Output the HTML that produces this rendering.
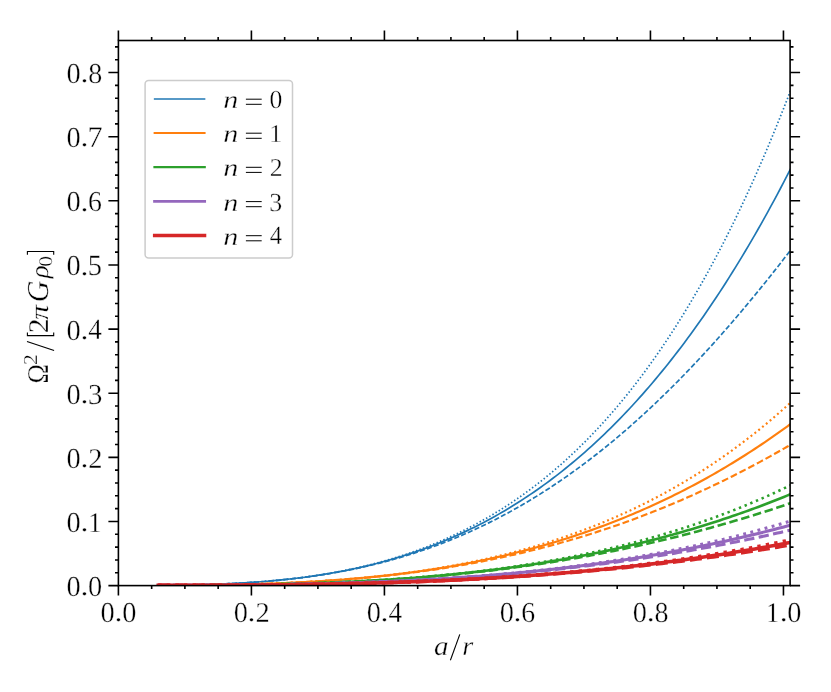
<!DOCTYPE html>
<html><head><meta charset="utf-8"><title>plot</title>
<style>
html,body{margin:0;padding:0;background:#fff;}
body{width:831px;height:692px;overflow:hidden;position:relative;font-family:"Liberation Serif",serif;}
svg{will-change:transform;position:absolute;left:0;top:0;display:block;}
text{font-family:"Liberation Serif",serif;fill:#000;text-rendering:geometricPrecision;}
.it{font-style:italic;}
</style></head><body>
<svg width="831" height="692" viewBox="0 0 831 692">
<rect x="0" y="0" width="831" height="692" fill="#fff"/>
<defs><clipPath id="ax"><rect x="118.4" y="40.5" width="671.70" height="545.10"/></clipPath></defs>
<g clip-path="url(#ax)" fill="none" stroke-linejoin="round">
<path d="M158.30,585.32 L161.51,585.30 L164.72,585.27 L167.92,585.25 L171.13,585.22 L174.34,585.18 L177.55,585.14 L180.76,585.09 L183.96,585.04 L187.17,584.99 L190.38,584.93 L193.59,584.86 L196.80,584.79 L200.00,584.71 L203.21,584.63 L206.42,584.54 L209.63,584.44 L212.84,584.34 L216.04,584.23 L219.25,584.11 L222.46,583.98 L225.67,583.84 L228.88,583.70 L232.08,583.55 L235.29,583.38 L238.50,583.21 L241.71,583.03 L244.92,582.84 L248.13,582.64 L251.33,582.43 L254.54,582.21 L257.75,581.98 L260.96,581.74 L264.17,581.48 L267.37,581.22 L270.58,580.94 L273.79,580.65 L277.00,580.35 L280.21,580.04 L283.41,579.71 L286.62,579.37 L289.83,579.02 L293.04,578.65 L296.25,578.27 L299.45,577.88 L302.66,577.47 L305.87,577.05 L309.08,576.61 L312.29,576.16 L315.49,575.69 L318.70,575.20 L321.91,574.70 L325.12,574.19 L328.33,573.65 L331.53,573.10 L334.74,572.53 L337.95,571.95 L341.16,571.35 L344.37,570.73 L347.57,570.09 L350.78,569.43 L353.99,568.76 L357.20,568.06 L360.41,567.35 L363.61,566.62 L366.82,565.86 L370.03,565.09 L373.24,564.30 L376.45,563.48 L379.65,562.65 L382.86,561.79 L386.07,560.91 L389.28,560.02 L392.49,559.09 L395.69,558.15 L398.90,557.18 L402.11,556.19 L405.32,555.18 L408.53,554.14 L411.74,553.08 L414.94,552.00 L418.15,550.89 L421.36,549.76 L424.57,548.60 L427.78,547.42 L430.98,546.21 L434.19,544.97 L437.40,543.71 L440.61,542.42 L443.82,541.11 L447.02,539.77 L450.23,538.40 L453.44,537.00 L456.65,535.58 L459.86,534.13 L463.06,532.64 L466.27,531.13 L469.48,529.60 L472.69,528.03 L475.90,526.43 L479.10,524.80 L482.31,523.14 L485.52,521.45 L488.73,519.73 L491.94,517.98 L495.14,516.19 L498.35,514.38 L501.56,512.53 L504.77,510.65 L507.98,508.73 L511.18,506.78 L514.39,504.80 L517.60,502.79 L520.81,500.74 L524.02,498.65 L527.22,496.54 L530.43,494.38 L533.64,492.19 L536.85,489.97 L540.06,487.70 L543.26,485.40 L546.47,483.07 L549.68,480.70 L552.89,478.28 L556.10,475.84 L559.31,473.35 L562.51,470.82 L565.72,468.26 L568.93,465.65 L572.14,463.01 L575.35,460.33 L578.55,457.60 L581.76,454.84 L584.97,452.03 L588.18,449.18 L591.39,446.30 L594.59,443.36 L597.80,440.39 L601.01,437.37 L604.22,434.31 L607.43,431.21 L610.63,428.06 L613.84,424.87 L617.05,421.63 L620.26,418.35 L623.47,415.02 L626.67,411.65 L629.88,408.23 L633.09,404.76 L636.30,401.25 L639.51,397.69 L642.71,394.08 L645.92,390.42 L649.13,386.72 L652.34,382.96 L655.55,379.16 L658.75,375.30 L661.96,371.40 L665.17,367.45 L668.38,363.44 L671.59,359.39 L674.79,355.28 L678.00,351.12 L681.21,346.91 L684.42,342.64 L687.63,338.32 L690.83,333.95 L694.04,329.53 L697.25,325.05 L700.46,320.51 L703.67,315.92 L706.87,311.27 L710.08,306.57 L713.29,301.81 L716.50,296.99 L719.71,292.12 L722.92,287.19 L726.12,282.20 L729.33,277.15 L732.54,272.04 L735.75,266.87 L738.96,261.64 L742.16,256.35 L745.37,251.00 L748.58,245.59 L751.79,240.12 L755.00,234.59 L758.20,228.99 L761.41,223.33 L764.62,217.60 L767.83,211.82 L771.04,205.96 L774.24,200.05 L777.45,194.06 L780.66,188.01 L783.87,181.90 L787.08,175.71 L790.28,169.47 L793.49,163.15 L796.70,156.76" stroke="#1f77b4" stroke-width="1.69" stroke-linecap="square"/>
<path d="M158.30,585.32 L161.51,585.30 L164.72,585.27 L167.92,585.25 L171.13,585.22 L174.34,585.18 L177.55,585.14 L180.76,585.09 L183.96,585.05 L187.17,584.99 L190.38,584.93 L193.59,584.86 L196.80,584.79 L200.00,584.72 L203.21,584.63 L206.42,584.54 L209.63,584.44 L212.84,584.34 L216.04,584.23 L219.25,584.11 L222.46,583.98 L225.67,583.85 L228.88,583.70 L232.08,583.55 L235.29,583.39 L238.50,583.22 L241.71,583.04 L244.92,582.85 L248.13,582.65 L251.33,582.44 L254.54,582.23 L257.75,582.00 L260.96,581.76 L264.17,581.50 L267.37,581.24 L270.58,580.97 L273.79,580.68 L277.00,580.38 L280.21,580.07 L283.41,579.75 L286.62,579.42 L289.83,579.07 L293.04,578.71 L296.25,578.33 L299.45,577.94 L302.66,577.54 L305.87,577.13 L309.08,576.69 L312.29,576.25 L315.49,575.79 L318.70,575.31 L321.91,574.82 L325.12,574.32 L328.33,573.80 L331.53,573.26 L334.74,572.70 L337.95,572.13 L341.16,571.55 L344.37,570.94 L347.57,570.32 L350.78,569.68 L353.99,569.03 L357.20,568.35 L360.41,567.66 L363.61,566.95 L366.82,566.22 L370.03,565.47 L373.24,564.71 L376.45,563.92 L379.65,563.12 L382.86,562.30 L386.07,561.45 L389.28,560.59 L392.49,559.71 L395.69,558.80 L398.90,557.88 L402.11,556.93 L405.32,555.97 L408.53,554.98 L411.74,553.97 L414.94,552.94 L418.15,551.89 L421.36,550.81 L424.57,549.72 L427.78,548.60 L430.98,547.46 L434.19,546.30 L437.40,545.11 L440.61,543.90 L443.82,542.67 L447.02,541.41 L450.23,540.13 L453.44,538.83 L456.65,537.50 L459.86,536.15 L463.06,534.78 L466.27,533.38 L469.48,531.95 L472.69,530.50 L475.90,529.03 L479.10,527.53 L482.31,526.01 L485.52,524.46 L488.73,522.88 L491.94,521.28 L495.14,519.66 L498.35,518.00 L501.56,516.32 L504.77,514.62 L507.98,512.89 L511.18,511.13 L514.39,509.35 L517.60,507.54 L520.81,505.70 L524.02,503.83 L527.22,501.94 L530.43,500.02 L533.64,498.08 L536.85,496.10 L540.06,494.10 L543.26,492.07 L546.47,490.02 L549.68,487.93 L552.89,485.82 L556.10,483.68 L559.31,481.51 L562.51,479.31 L565.72,477.09 L568.93,474.84 L572.14,472.55 L575.35,470.24 L578.55,467.91 L581.76,465.54 L584.97,463.14 L588.18,460.72 L591.39,458.26 L594.59,455.78 L597.80,453.27 L601.01,450.73 L604.22,448.16 L607.43,445.56 L610.63,442.93 L613.84,440.28 L617.05,437.59 L620.26,434.88 L623.47,432.14 L626.67,429.36 L629.88,426.56 L633.09,423.73 L636.30,420.87 L639.51,417.98 L642.71,415.06 L645.92,412.11 L649.13,409.14 L652.34,406.13 L655.55,403.10 L658.75,400.03 L661.96,396.94 L665.17,393.82 L668.38,390.67 L671.59,387.49 L674.79,384.28 L678.00,381.05 L681.21,377.78 L684.42,374.49 L687.63,371.17 L690.83,367.81 L694.04,364.44 L697.25,361.03 L700.46,357.59 L703.67,354.13 L706.87,350.64 L710.08,347.12 L713.29,343.57 L716.50,340.00 L719.71,336.40 L722.92,332.77 L726.12,329.11 L729.33,325.43 L732.54,321.72 L735.75,317.98 L738.96,314.22 L742.16,310.43 L745.37,306.61 L748.58,302.77 L751.79,298.90 L755.00,295.01 L758.20,291.09 L761.41,287.14 L764.62,283.17 L767.83,279.18 L771.04,275.16 L774.24,271.11 L777.45,267.05 L780.66,262.95 L783.87,258.84 L787.08,254.70 L790.28,250.54 L793.49,246.35 L796.70,242.14" stroke="#1f77b4" stroke-width="1.69" stroke-dasharray="5.14 2.22"/>
<path d="M158.30,585.32 L161.51,585.30 L164.72,585.27 L167.92,585.25 L171.13,585.22 L174.34,585.18 L177.55,585.14 L180.76,585.09 L183.96,585.04 L187.17,584.99 L190.38,584.93 L193.59,584.86 L196.80,584.79 L200.00,584.71 L203.21,584.63 L206.42,584.54 L209.63,584.44 L212.84,584.34 L216.04,584.22 L219.25,584.10 L222.46,583.98 L225.67,583.84 L228.88,583.70 L232.08,583.54 L235.29,583.38 L238.50,583.21 L241.71,583.03 L244.92,582.84 L248.13,582.63 L251.33,582.42 L254.54,582.20 L257.75,581.97 L260.96,581.72 L264.17,581.47 L267.37,581.20 L270.58,580.92 L273.79,580.63 L277.00,580.33 L280.21,580.01 L283.41,579.68 L286.62,579.34 L289.83,578.98 L293.04,578.61 L296.25,578.23 L299.45,577.83 L302.66,577.41 L305.87,576.98 L309.08,576.54 L312.29,576.08 L315.49,575.60 L318.70,575.11 L321.91,574.60 L325.12,574.08 L328.33,573.53 L331.53,572.97 L334.74,572.39 L337.95,571.80 L341.16,571.18 L344.37,570.55 L347.57,569.89 L350.78,569.22 L353.99,568.53 L357.20,567.82 L360.41,567.09 L363.61,566.33 L366.82,565.56 L370.03,564.76 L373.24,563.95 L376.45,563.11 L379.65,562.24 L382.86,561.36 L386.07,560.45 L389.28,559.52 L392.49,558.57 L395.69,557.59 L398.90,556.58 L402.11,555.55 L405.32,554.50 L408.53,553.42 L411.74,552.31 L414.94,551.18 L418.15,550.02 L421.36,548.83 L424.57,547.62 L427.78,546.38 L430.98,545.11 L434.19,543.81 L437.40,542.48 L440.61,541.12 L443.82,539.73 L447.02,538.32 L450.23,536.87 L453.44,535.38 L456.65,533.87 L459.86,532.33 L463.06,530.75 L466.27,529.14 L469.48,527.50 L472.69,525.82 L475.90,524.10 L479.10,522.36 L482.31,520.57 L485.52,518.76 L488.73,516.90 L491.94,515.01 L495.14,513.08 L498.35,511.11 L501.56,509.11 L504.77,507.06 L507.98,504.98 L511.18,502.86 L514.39,500.70 L517.60,498.49 L520.81,496.25 L524.02,493.96 L527.22,491.63 L530.43,489.26 L533.64,486.84 L536.85,484.38 L540.06,481.87 L543.26,479.32 L546.47,476.73 L549.68,474.09 L552.89,471.40 L556.10,468.66 L559.31,465.88 L562.51,463.04 L565.72,460.16 L568.93,457.22 L572.14,454.24 L575.35,451.21 L578.55,448.12 L581.76,444.98 L584.97,441.79 L588.18,438.54 L591.39,435.24 L594.59,431.88 L597.80,428.47 L601.01,425.00 L604.22,421.48 L607.43,417.90 L610.63,414.25 L613.84,410.55 L617.05,406.79 L620.26,402.97 L623.47,399.08 L626.67,395.14 L629.88,391.13 L633.09,387.06 L636.30,382.92 L639.51,378.72 L642.71,374.45 L645.92,370.11 L649.13,365.71 L652.34,361.24 L655.55,356.70 L658.75,352.09 L661.96,347.40 L665.17,342.65 L668.38,337.82 L671.59,332.92 L674.79,327.95 L678.00,322.90 L681.21,317.77 L684.42,312.57 L687.63,307.29 L690.83,301.93 L694.04,296.49 L697.25,290.97 L700.46,285.37 L703.67,279.69 L706.87,273.92 L710.08,268.07 L713.29,262.13 L716.50,256.11 L719.71,249.99 L722.92,243.79 L726.12,237.51 L729.33,231.13 L732.54,224.65 L735.75,218.09 L738.96,211.43 L742.16,204.68 L745.37,197.83 L748.58,190.89 L751.79,183.85 L755.00,176.70 L758.20,169.46 L761.41,162.12 L764.62,154.67 L767.83,147.12 L771.04,139.47 L774.24,131.71 L777.45,123.84 L780.66,115.87 L783.87,107.78 L787.08,99.59 L790.28,91.28 L793.49,82.86 L796.70,74.32" stroke="#1f77b4" stroke-width="1.69" stroke-dasharray="1.49 2.19"/>
<path d="M158.30,585.37 L161.51,585.36 L164.72,585.35 L167.92,585.34 L171.13,585.32 L174.34,585.31 L177.55,585.29 L180.76,585.28 L183.96,585.26 L187.17,585.23 L190.38,585.21 L193.59,585.18 L196.80,585.15 L200.00,585.12 L203.21,585.09 L206.42,585.05 L209.63,585.01 L212.84,584.97 L216.04,584.92 L219.25,584.87 L222.46,584.82 L225.67,584.77 L228.88,584.71 L232.08,584.64 L235.29,584.58 L238.50,584.51 L241.71,584.44 L244.92,584.36 L248.13,584.28 L251.33,584.19 L254.54,584.10 L257.75,584.01 L260.96,583.91 L264.17,583.81 L267.37,583.70 L270.58,583.59 L273.79,583.47 L277.00,583.35 L280.21,583.22 L283.41,583.09 L286.62,582.95 L289.83,582.81 L293.04,582.66 L296.25,582.50 L299.45,582.34 L302.66,582.18 L305.87,582.01 L309.08,581.83 L312.29,581.65 L315.49,581.46 L318.70,581.26 L321.91,581.06 L325.12,580.85 L328.33,580.63 L331.53,580.41 L334.74,580.18 L337.95,579.94 L341.16,579.70 L344.37,579.45 L347.57,579.19 L350.78,578.93 L353.99,578.66 L357.20,578.37 L360.41,578.09 L363.61,577.79 L366.82,577.49 L370.03,577.18 L373.24,576.86 L376.45,576.53 L379.65,576.19 L382.86,575.85 L386.07,575.50 L389.28,575.13 L392.49,574.76 L395.69,574.38 L398.90,574.00 L402.11,573.60 L405.32,573.19 L408.53,572.78 L411.74,572.35 L414.94,571.92 L418.15,571.47 L421.36,571.02 L424.57,570.55 L427.78,570.08 L430.98,569.59 L434.19,569.10 L437.40,568.60 L440.61,568.08 L443.82,567.56 L447.02,567.02 L450.23,566.47 L453.44,565.92 L456.65,565.35 L459.86,564.77 L463.06,564.18 L466.27,563.58 L469.48,562.96 L472.69,562.34 L475.90,561.70 L479.10,561.05 L482.31,560.39 L485.52,559.72 L488.73,559.04 L491.94,558.34 L495.14,557.63 L498.35,556.91 L501.56,556.18 L504.77,555.44 L507.98,554.68 L511.18,553.91 L514.39,553.12 L517.60,552.32 L520.81,551.51 L524.02,550.69 L527.22,549.85 L530.43,549.00 L533.64,548.14 L536.85,547.26 L540.06,546.37 L543.26,545.46 L546.47,544.54 L549.68,543.61 L552.89,542.66 L556.10,541.70 L559.31,540.72 L562.51,539.73 L565.72,538.72 L568.93,537.70 L572.14,536.66 L575.35,535.61 L578.55,534.54 L581.76,533.46 L584.97,532.36 L588.18,531.25 L591.39,530.12 L594.59,528.97 L597.80,527.81 L601.01,526.63 L604.22,525.44 L607.43,524.23 L610.63,523.00 L613.84,521.76 L617.05,520.50 L620.26,519.22 L623.47,517.93 L626.67,516.62 L629.88,515.29 L633.09,513.94 L636.30,512.58 L639.51,511.20 L642.71,509.80 L645.92,508.39 L649.13,506.95 L652.34,505.50 L655.55,504.03 L658.75,502.54 L661.96,501.04 L665.17,499.51 L668.38,497.97 L671.59,496.41 L674.79,494.82 L678.00,493.22 L681.21,491.60 L684.42,489.97 L687.63,488.31 L690.83,486.63 L694.04,484.93 L697.25,483.21 L700.46,481.48 L703.67,479.72 L706.87,477.94 L710.08,476.14 L713.29,474.33 L716.50,472.49 L719.71,470.63 L722.92,468.75 L726.12,466.84 L729.33,464.92 L732.54,462.98 L735.75,461.01 L738.96,459.03 L742.16,457.02 L745.37,454.99 L748.58,452.94 L751.79,450.86 L755.00,448.77 L758.20,446.65 L761.41,444.51 L764.62,442.34 L767.83,440.16 L771.04,437.95 L774.24,435.72 L777.45,433.46 L780.66,431.18 L783.87,428.88 L787.08,426.56 L790.28,424.21 L793.49,421.84 L796.70,419.44" stroke="#ff7f0e" stroke-width="2.15" stroke-linecap="square"/>
<path d="M158.30,585.37 L161.51,585.36 L164.72,585.35 L167.92,585.34 L171.13,585.32 L174.34,585.31 L177.55,585.29 L180.76,585.28 L183.96,585.26 L187.17,585.23 L190.38,585.21 L193.59,585.18 L196.80,585.15 L200.00,585.12 L203.21,585.09 L206.42,585.05 L209.63,585.01 L212.84,584.97 L216.04,584.92 L219.25,584.87 L222.46,584.82 L225.67,584.77 L228.88,584.71 L232.08,584.65 L235.29,584.58 L238.50,584.51 L241.71,584.44 L244.92,584.36 L248.13,584.28 L251.33,584.20 L254.54,584.11 L257.75,584.02 L260.96,583.92 L264.17,583.82 L267.37,583.71 L270.58,583.60 L273.79,583.48 L277.00,583.36 L280.21,583.24 L283.41,583.11 L286.62,582.97 L289.83,582.83 L293.04,582.68 L296.25,582.53 L299.45,582.37 L302.66,582.21 L305.87,582.04 L309.08,581.87 L312.29,581.69 L315.49,581.50 L318.70,581.31 L321.91,581.11 L325.12,580.91 L328.33,580.69 L331.53,580.48 L334.74,580.25 L337.95,580.02 L341.16,579.78 L344.37,579.54 L347.57,579.29 L350.78,579.03 L353.99,578.77 L357.20,578.49 L360.41,578.21 L363.61,577.93 L366.82,577.63 L370.03,577.33 L373.24,577.02 L376.45,576.70 L379.65,576.38 L382.86,576.05 L386.07,575.70 L389.28,575.36 L392.49,575.00 L395.69,574.63 L398.90,574.26 L402.11,573.88 L405.32,573.49 L408.53,573.09 L411.74,572.68 L414.94,572.26 L418.15,571.84 L421.36,571.40 L424.57,570.96 L427.78,570.51 L430.98,570.05 L434.19,569.58 L437.40,569.10 L440.61,568.61 L443.82,568.11 L447.02,567.60 L450.23,567.09 L453.44,566.56 L456.65,566.02 L459.86,565.47 L463.06,564.92 L466.27,564.35 L469.48,563.77 L472.69,563.19 L475.90,562.59 L479.10,561.98 L482.31,561.36 L485.52,560.73 L488.73,560.10 L491.94,559.45 L495.14,558.79 L498.35,558.12 L501.56,557.43 L504.77,556.74 L507.98,556.04 L511.18,555.32 L514.39,554.60 L517.60,553.86 L520.81,553.11 L524.02,552.36 L527.22,551.58 L530.43,550.80 L533.64,550.01 L536.85,549.20 L540.06,548.39 L543.26,547.56 L546.47,546.72 L549.68,545.87 L552.89,545.01 L556.10,544.13 L559.31,543.24 L562.51,542.34 L565.72,541.43 L568.93,540.51 L572.14,539.57 L575.35,538.63 L578.55,537.67 L581.76,536.69 L584.97,535.71 L588.18,534.71 L591.39,533.70 L594.59,532.68 L597.80,531.64 L601.01,530.60 L604.22,529.53 L607.43,528.46 L610.63,527.38 L613.84,526.28 L617.05,525.16 L620.26,524.04 L623.47,522.90 L626.67,521.75 L629.88,520.59 L633.09,519.41 L636.30,518.22 L639.51,517.01 L642.71,515.80 L645.92,514.57 L649.13,513.32 L652.34,512.07 L655.55,510.80 L658.75,509.51 L661.96,508.21 L665.17,506.90 L668.38,505.58 L671.59,504.24 L674.79,502.89 L678.00,501.52 L681.21,500.14 L684.42,498.75 L687.63,497.34 L690.83,495.92 L694.04,494.48 L697.25,493.04 L700.46,491.57 L703.67,490.10 L706.87,488.61 L710.08,487.10 L713.29,485.58 L716.50,484.05 L719.71,482.50 L722.92,480.94 L726.12,479.37 L729.33,477.78 L732.54,476.17 L735.75,474.56 L738.96,472.92 L742.16,471.28 L745.37,469.62 L748.58,467.94 L751.79,466.25 L755.00,464.55 L758.20,462.83 L761.41,461.10 L764.62,459.36 L767.83,457.60 L771.04,455.82 L774.24,454.03 L777.45,452.23 L780.66,450.41 L783.87,448.58 L787.08,446.73 L790.28,444.87 L793.49,442.99 L796.70,441.10" stroke="#ff7f0e" stroke-width="2.15" stroke-dasharray="6.85 2.96"/>
<path d="M158.30,585.37 L161.51,585.36 L164.72,585.35 L167.92,585.34 L171.13,585.32 L174.34,585.31 L177.55,585.29 L180.76,585.28 L183.96,585.26 L187.17,585.23 L190.38,585.21 L193.59,585.18 L196.80,585.15 L200.00,585.12 L203.21,585.09 L206.42,585.05 L209.63,585.01 L212.84,584.97 L216.04,584.92 L219.25,584.87 L222.46,584.82 L225.67,584.76 L228.88,584.71 L232.08,584.64 L235.29,584.58 L238.50,584.51 L241.71,584.43 L244.92,584.36 L248.13,584.28 L251.33,584.19 L254.54,584.10 L257.75,584.00 L260.96,583.91 L264.17,583.80 L267.37,583.69 L270.58,583.58 L273.79,583.46 L277.00,583.34 L280.21,583.21 L283.41,583.08 L286.62,582.94 L289.83,582.80 L293.04,582.65 L296.25,582.49 L299.45,582.33 L302.66,582.16 L305.87,581.99 L309.08,581.81 L312.29,581.62 L315.49,581.43 L318.70,581.23 L321.91,581.03 L325.12,580.82 L328.33,580.60 L331.53,580.37 L334.74,580.14 L337.95,579.90 L341.16,579.66 L344.37,579.40 L347.57,579.14 L350.78,578.87 L353.99,578.59 L357.20,578.31 L360.41,578.02 L363.61,577.71 L366.82,577.41 L370.03,577.09 L373.24,576.76 L376.45,576.43 L379.65,576.08 L382.86,575.73 L386.07,575.37 L389.28,575.00 L392.49,574.62 L395.69,574.23 L398.90,573.83 L402.11,573.42 L405.32,573.01 L408.53,572.58 L411.74,572.14 L414.94,571.69 L418.15,571.23 L421.36,570.77 L424.57,570.29 L427.78,569.80 L430.98,569.30 L434.19,568.78 L437.40,568.26 L440.61,567.73 L443.82,567.18 L447.02,566.63 L450.23,566.06 L453.44,565.48 L456.65,564.88 L459.86,564.28 L463.06,563.66 L466.27,563.03 L469.48,562.39 L472.69,561.74 L475.90,561.07 L479.10,560.39 L482.31,559.70 L485.52,558.99 L488.73,558.27 L491.94,557.54 L495.14,556.79 L498.35,556.03 L501.56,555.25 L504.77,554.46 L507.98,553.66 L511.18,552.84 L514.39,552.00 L517.60,551.16 L520.81,550.29 L524.02,549.41 L527.22,548.52 L530.43,547.61 L533.64,546.68 L536.85,545.74 L540.06,544.78 L543.26,543.81 L546.47,542.82 L549.68,541.81 L552.89,540.79 L556.10,539.74 L559.31,538.69 L562.51,537.61 L565.72,536.52 L568.93,535.40 L572.14,534.27 L575.35,533.13 L578.55,531.96 L581.76,530.78 L584.97,529.57 L588.18,528.35 L591.39,527.11 L594.59,525.85 L597.80,524.57 L601.01,523.27 L604.22,521.94 L607.43,520.60 L610.63,519.24 L613.84,517.86 L617.05,516.46 L620.26,515.03 L623.47,513.59 L626.67,512.12 L629.88,510.63 L633.09,509.12 L636.30,507.59 L639.51,506.03 L642.71,504.46 L645.92,502.86 L649.13,501.23 L652.34,499.58 L655.55,497.91 L658.75,496.22 L661.96,494.50 L665.17,492.76 L668.38,490.99 L671.59,489.20 L674.79,487.38 L678.00,485.53 L681.21,483.67 L684.42,481.77 L687.63,479.85 L690.83,477.90 L694.04,475.93 L697.25,473.93 L700.46,471.90 L703.67,469.84 L706.87,467.76 L710.08,465.65 L713.29,463.51 L716.50,461.34 L719.71,459.14 L722.92,456.92 L726.12,454.66 L729.33,452.37 L732.54,450.06 L735.75,447.71 L738.96,445.34 L742.16,442.93 L745.37,440.49 L748.58,438.02 L751.79,435.51 L755.00,432.98 L758.20,430.41 L761.41,427.81 L764.62,425.18 L767.83,422.51 L771.04,419.81 L774.24,417.08 L777.45,414.31 L780.66,411.50 L783.87,408.66 L787.08,405.79 L790.28,402.88 L793.49,399.93 L796.70,396.95" stroke="#ff7f0e" stroke-width="2.15" stroke-dasharray="1.95 2.96"/>
<path d="M158.30,585.38 L161.51,585.38 L164.72,585.37 L167.92,585.36 L171.13,585.36 L174.34,585.35 L177.55,585.34 L180.76,585.33 L183.96,585.32 L187.17,585.30 L190.38,585.29 L193.59,585.28 L196.80,585.26 L200.00,585.24 L203.21,585.22 L206.42,585.20 L209.63,585.18 L212.84,585.15 L216.04,585.13 L219.25,585.10 L222.46,585.07 L225.67,585.04 L228.88,585.00 L232.08,584.97 L235.29,584.93 L238.50,584.89 L241.71,584.85 L244.92,584.80 L248.13,584.76 L251.33,584.71 L254.54,584.66 L257.75,584.60 L260.96,584.55 L264.17,584.49 L267.37,584.43 L270.58,584.36 L273.79,584.30 L277.00,584.23 L280.21,584.15 L283.41,584.08 L286.62,584.00 L289.83,583.92 L293.04,583.83 L296.25,583.74 L299.45,583.65 L302.66,583.56 L305.87,583.46 L309.08,583.36 L312.29,583.25 L315.49,583.15 L318.70,583.03 L321.91,582.92 L325.12,582.80 L328.33,582.68 L331.53,582.55 L334.74,582.42 L337.95,582.28 L341.16,582.14 L344.37,582.00 L347.57,581.85 L350.78,581.70 L353.99,581.55 L357.20,581.39 L360.41,581.22 L363.61,581.06 L366.82,580.88 L370.03,580.70 L373.24,580.52 L376.45,580.34 L379.65,580.14 L382.86,579.95 L386.07,579.75 L389.28,579.54 L392.49,579.33 L395.69,579.11 L398.90,578.89 L402.11,578.66 L405.32,578.43 L408.53,578.20 L411.74,577.95 L414.94,577.71 L418.15,577.45 L421.36,577.19 L424.57,576.93 L427.78,576.66 L430.98,576.38 L434.19,576.10 L437.40,575.82 L440.61,575.52 L443.82,575.22 L447.02,574.92 L450.23,574.61 L453.44,574.29 L456.65,573.97 L459.86,573.64 L463.06,573.30 L466.27,572.96 L469.48,572.61 L472.69,572.26 L475.90,571.89 L479.10,571.53 L482.31,571.15 L485.52,570.77 L488.73,570.38 L491.94,569.98 L495.14,569.58 L498.35,569.17 L501.56,568.76 L504.77,568.33 L507.98,567.90 L511.18,567.46 L514.39,567.02 L517.60,566.57 L520.81,566.11 L524.02,565.64 L527.22,565.16 L530.43,564.68 L533.64,564.19 L536.85,563.69 L540.06,563.18 L543.26,562.67 L546.47,562.15 L549.68,561.62 L552.89,561.08 L556.10,560.54 L559.31,559.98 L562.51,559.42 L565.72,558.85 L568.93,558.27 L572.14,557.68 L575.35,557.09 L578.55,556.48 L581.76,555.87 L584.97,555.25 L588.18,554.61 L591.39,553.97 L594.59,553.33 L597.80,552.67 L601.01,552.00 L604.22,551.33 L607.43,550.64 L610.63,549.95 L613.84,549.24 L617.05,548.53 L620.26,547.81 L623.47,547.08 L626.67,546.34 L629.88,545.59 L633.09,544.83 L636.30,544.06 L639.51,543.28 L642.71,542.49 L645.92,541.69 L649.13,540.88 L652.34,540.06 L655.55,539.23 L658.75,538.39 L661.96,537.54 L665.17,536.68 L668.38,535.81 L671.59,534.93 L674.79,534.03 L678.00,533.13 L681.21,532.22 L684.42,531.29 L687.63,530.36 L690.83,529.41 L694.04,528.46 L697.25,527.49 L700.46,526.51 L703.67,525.52 L706.87,524.52 L710.08,523.51 L713.29,522.48 L716.50,521.45 L719.71,520.40 L722.92,519.34 L726.12,518.27 L729.33,517.19 L732.54,516.10 L735.75,514.99 L738.96,513.88 L742.16,512.75 L745.37,511.61 L748.58,510.46 L751.79,509.29 L755.00,508.11 L758.20,506.92 L761.41,505.72 L764.62,504.51 L767.83,503.28 L771.04,502.04 L774.24,500.79 L777.45,499.52 L780.66,498.24 L783.87,496.95 L787.08,495.65 L790.28,494.33 L793.49,493.00 L796.70,491.66" stroke="#2ca02c" stroke-width="2.61" stroke-linecap="square"/>
<path d="M158.30,585.38 L161.51,585.38 L164.72,585.37 L167.92,585.36 L171.13,585.36 L174.34,585.35 L177.55,585.34 L180.76,585.33 L183.96,585.32 L187.17,585.30 L190.38,585.29 L193.59,585.28 L196.80,585.26 L200.00,585.24 L203.21,585.22 L206.42,585.20 L209.63,585.18 L212.84,585.15 L216.04,585.13 L219.25,585.10 L222.46,585.07 L225.67,585.04 L228.88,585.00 L232.08,584.97 L235.29,584.93 L238.50,584.89 L241.71,584.85 L244.92,584.81 L248.13,584.76 L251.33,584.71 L254.54,584.66 L257.75,584.61 L260.96,584.55 L264.17,584.49 L267.37,584.43 L270.58,584.37 L273.79,584.30 L277.00,584.23 L280.21,584.16 L283.41,584.08 L286.62,584.00 L289.83,583.92 L293.04,583.84 L296.25,583.75 L299.45,583.66 L302.66,583.57 L305.87,583.47 L309.08,583.37 L312.29,583.26 L315.49,583.16 L318.70,583.05 L321.91,582.93 L325.12,582.81 L328.33,582.69 L331.53,582.57 L334.74,582.44 L337.95,582.30 L341.16,582.17 L344.37,582.02 L347.57,581.88 L350.78,581.73 L353.99,581.58 L357.20,581.42 L360.41,581.26 L363.61,581.09 L366.82,580.92 L370.03,580.75 L373.24,580.57 L376.45,580.38 L379.65,580.19 L382.86,580.00 L386.07,579.80 L389.28,579.60 L392.49,579.39 L395.69,579.18 L398.90,578.96 L402.11,578.74 L405.32,578.52 L408.53,578.28 L411.74,578.05 L414.94,577.81 L418.15,577.56 L421.36,577.31 L424.57,577.05 L427.78,576.79 L430.98,576.52 L434.19,576.24 L437.40,575.96 L440.61,575.68 L443.82,575.39 L447.02,575.09 L450.23,574.79 L453.44,574.49 L456.65,574.17 L459.86,573.85 L463.06,573.53 L466.27,573.20 L469.48,572.86 L472.69,572.52 L475.90,572.17 L479.10,571.82 L482.31,571.46 L485.52,571.09 L488.73,570.72 L491.94,570.34 L495.14,569.95 L498.35,569.56 L501.56,569.16 L504.77,568.76 L507.98,568.35 L511.18,567.93 L514.39,567.51 L517.60,567.08 L520.81,566.64 L524.02,566.20 L527.22,565.75 L530.43,565.29 L533.64,564.82 L536.85,564.35 L540.06,563.88 L543.26,563.39 L546.47,562.90 L549.68,562.40 L552.89,561.90 L556.10,561.38 L559.31,560.86 L562.51,560.34 L565.72,559.80 L568.93,559.26 L572.14,558.72 L575.35,558.16 L578.55,557.60 L581.76,557.03 L584.97,556.45 L588.18,555.87 L591.39,555.27 L594.59,554.68 L597.80,554.07 L601.01,553.45 L604.22,552.83 L607.43,552.20 L610.63,551.57 L613.84,550.92 L617.05,550.27 L620.26,549.61 L623.47,548.94 L626.67,548.27 L629.88,547.59 L633.09,546.90 L636.30,546.20 L639.51,545.49 L642.71,544.78 L645.92,544.06 L649.13,543.33 L652.34,542.59 L655.55,541.85 L658.75,541.09 L661.96,540.33 L665.17,539.56 L668.38,538.79 L671.59,538.00 L674.79,537.21 L678.00,536.41 L681.21,535.60 L684.42,534.78 L687.63,533.96 L690.83,533.13 L694.04,532.29 L697.25,531.44 L700.46,530.58 L703.67,529.71 L706.87,528.84 L710.08,527.96 L713.29,527.07 L716.50,526.17 L719.71,525.27 L722.92,524.36 L726.12,523.43 L729.33,522.50 L732.54,521.57 L735.75,520.62 L738.96,519.67 L742.16,518.70 L745.37,517.73 L748.58,516.75 L751.79,515.77 L755.00,514.77 L758.20,513.77 L761.41,512.76 L764.62,511.74 L767.83,510.71 L771.04,509.68 L774.24,508.63 L777.45,507.58 L780.66,506.52 L783.87,505.45 L787.08,504.38 L790.28,503.29 L793.49,502.20 L796.70,501.10" stroke="#2ca02c" stroke-width="2.61" stroke-dasharray="8.57 3.70"/>
<path d="M158.30,585.38 L161.51,585.38 L164.72,585.37 L167.92,585.36 L171.13,585.36 L174.34,585.35 L177.55,585.34 L180.76,585.33 L183.96,585.32 L187.17,585.30 L190.38,585.29 L193.59,585.28 L196.80,585.26 L200.00,585.24 L203.21,585.22 L206.42,585.20 L209.63,585.18 L212.84,585.15 L216.04,585.13 L219.25,585.10 L222.46,585.07 L225.67,585.04 L228.88,585.00 L232.08,584.97 L235.29,584.93 L238.50,584.89 L241.71,584.85 L244.92,584.80 L248.13,584.76 L251.33,584.71 L254.54,584.66 L257.75,584.60 L260.96,584.55 L264.17,584.49 L267.37,584.43 L270.58,584.36 L273.79,584.29 L277.00,584.22 L280.21,584.15 L283.41,584.07 L286.62,584.00 L289.83,583.91 L293.04,583.83 L296.25,583.74 L299.45,583.65 L302.66,583.55 L305.87,583.45 L309.08,583.35 L312.29,583.25 L315.49,583.14 L318.70,583.02 L321.91,582.91 L325.12,582.79 L328.33,582.66 L331.53,582.53 L334.74,582.40 L337.95,582.26 L341.16,582.12 L344.37,581.98 L347.57,581.83 L350.78,581.68 L353.99,581.52 L357.20,581.36 L360.41,581.19 L363.61,581.02 L366.82,580.84 L370.03,580.66 L373.24,580.48 L376.45,580.29 L379.65,580.09 L382.86,579.89 L386.07,579.69 L389.28,579.48 L392.49,579.26 L395.69,579.04 L398.90,578.82 L402.11,578.59 L405.32,578.35 L408.53,578.11 L411.74,577.86 L414.94,577.61 L418.15,577.35 L421.36,577.08 L424.57,576.81 L427.78,576.53 L430.98,576.25 L434.19,575.96 L437.40,575.67 L440.61,575.37 L443.82,575.06 L447.02,574.74 L450.23,574.42 L453.44,574.10 L456.65,573.76 L459.86,573.42 L463.06,573.07 L466.27,572.72 L469.48,572.36 L472.69,571.99 L475.90,571.61 L479.10,571.23 L482.31,570.84 L485.52,570.45 L488.73,570.04 L491.94,569.63 L495.14,569.21 L498.35,568.78 L501.56,568.35 L504.77,567.90 L507.98,567.45 L511.18,567.00 L514.39,566.53 L517.60,566.05 L520.81,565.57 L524.02,565.08 L527.22,564.58 L530.43,564.07 L533.64,563.55 L536.85,563.03 L540.06,562.49 L543.26,561.95 L546.47,561.40 L549.68,560.84 L552.89,560.27 L556.10,559.69 L559.31,559.10 L562.51,558.50 L565.72,557.89 L568.93,557.27 L572.14,556.65 L575.35,556.01 L578.55,555.36 L581.76,554.71 L584.97,554.04 L588.18,553.36 L591.39,552.67 L594.59,551.98 L597.80,551.27 L601.01,550.55 L604.22,549.82 L607.43,549.08 L610.63,548.33 L613.84,547.57 L617.05,546.79 L620.26,546.01 L623.47,545.21 L626.67,544.41 L629.88,543.59 L633.09,542.76 L636.30,541.92 L639.51,541.06 L642.71,540.20 L645.92,539.32 L649.13,538.43 L652.34,537.53 L655.55,536.61 L658.75,535.69 L661.96,534.75 L665.17,533.79 L668.38,532.83 L671.59,531.85 L674.79,530.86 L678.00,529.85 L681.21,528.84 L684.42,527.80 L687.63,526.76 L690.83,525.70 L694.04,524.63 L697.25,523.54 L700.46,522.44 L703.67,521.33 L706.87,520.20 L710.08,519.05 L713.29,517.90 L716.50,516.72 L719.71,515.54 L722.92,514.33 L726.12,513.12 L729.33,511.88 L732.54,510.63 L735.75,509.37 L738.96,508.09 L742.16,506.80 L745.37,505.48 L748.58,504.16 L751.79,502.81 L755.00,501.45 L758.20,500.08 L761.41,498.68 L764.62,497.27 L767.83,495.85 L771.04,494.40 L774.24,492.94 L777.45,491.46 L780.66,489.97 L783.87,488.46 L787.08,486.92 L790.28,485.37 L793.49,483.81 L796.70,482.22" stroke="#2ca02c" stroke-width="2.61" stroke-dasharray="2.42 3.72"/>
<path d="M158.30,585.39 L161.51,585.38 L164.72,585.38 L167.92,585.38 L171.13,585.37 L174.34,585.37 L177.55,585.36 L180.76,585.35 L183.96,585.34 L187.17,585.34 L190.38,585.33 L193.59,585.32 L196.80,585.31 L200.00,585.29 L203.21,585.28 L206.42,585.27 L209.63,585.25 L212.84,585.24 L216.04,585.22 L219.25,585.20 L222.46,585.18 L225.67,585.16 L228.88,585.14 L232.08,585.11 L235.29,585.09 L238.50,585.06 L241.71,585.03 L244.92,585.00 L248.13,584.97 L251.33,584.94 L254.54,584.91 L257.75,584.87 L260.96,584.83 L264.17,584.79 L267.37,584.75 L270.58,584.71 L273.79,584.66 L277.00,584.62 L280.21,584.57 L283.41,584.52 L286.62,584.47 L289.83,584.41 L293.04,584.36 L296.25,584.30 L299.45,584.24 L302.66,584.17 L305.87,584.11 L309.08,584.04 L312.29,583.97 L315.49,583.90 L318.70,583.82 L321.91,583.75 L325.12,583.67 L328.33,583.59 L331.53,583.50 L334.74,583.41 L337.95,583.32 L341.16,583.23 L344.37,583.14 L347.57,583.04 L350.78,582.94 L353.99,582.83 L357.20,582.73 L360.41,582.62 L363.61,582.51 L366.82,582.39 L370.03,582.27 L373.24,582.15 L376.45,582.03 L379.65,581.90 L382.86,581.77 L386.07,581.64 L389.28,581.50 L392.49,581.36 L395.69,581.21 L398.90,581.07 L402.11,580.92 L405.32,580.76 L408.53,580.60 L411.74,580.44 L414.94,580.28 L418.15,580.11 L421.36,579.94 L424.57,579.76 L427.78,579.58 L430.98,579.40 L434.19,579.21 L437.40,579.02 L440.61,578.83 L443.82,578.63 L447.02,578.43 L450.23,578.22 L453.44,578.01 L456.65,577.79 L459.86,577.58 L463.06,577.35 L466.27,577.12 L469.48,576.89 L472.69,576.66 L475.90,576.42 L479.10,576.17 L482.31,575.92 L485.52,575.67 L488.73,575.41 L491.94,575.15 L495.14,574.88 L498.35,574.61 L501.56,574.33 L504.77,574.05 L507.98,573.77 L511.18,573.48 L514.39,573.18 L517.60,572.88 L520.81,572.57 L524.02,572.26 L527.22,571.95 L530.43,571.63 L533.64,571.30 L536.85,570.97 L540.06,570.64 L543.26,570.30 L546.47,569.95 L549.68,569.60 L552.89,569.24 L556.10,568.88 L559.31,568.51 L562.51,568.14 L565.72,567.76 L568.93,567.38 L572.14,566.99 L575.35,566.60 L578.55,566.19 L581.76,565.79 L584.97,565.38 L588.18,564.96 L591.39,564.54 L594.59,564.11 L597.80,563.67 L601.01,563.23 L604.22,562.78 L607.43,562.33 L610.63,561.87 L613.84,561.40 L617.05,560.93 L620.26,560.46 L623.47,559.97 L626.67,559.48 L629.88,558.98 L633.09,558.48 L636.30,557.97 L639.51,557.46 L642.71,556.94 L645.92,556.41 L649.13,555.87 L652.34,555.33 L655.55,554.78 L658.75,554.23 L661.96,553.66 L665.17,553.10 L668.38,552.52 L671.59,551.94 L674.79,551.35 L678.00,550.75 L681.21,550.15 L684.42,549.54 L687.63,548.92 L690.83,548.30 L694.04,547.67 L697.25,547.03 L700.46,546.38 L703.67,545.73 L706.87,545.07 L710.08,544.40 L713.29,543.73 L716.50,543.04 L719.71,542.35 L722.92,541.65 L726.12,540.95 L729.33,540.24 L732.54,539.52 L735.75,538.79 L738.96,538.05 L742.16,537.31 L745.37,536.56 L748.58,535.80 L751.79,535.03 L755.00,534.25 L758.20,533.47 L761.41,532.68 L764.62,531.88 L767.83,531.07 L771.04,530.25 L774.24,529.43 L777.45,528.60 L780.66,527.76 L783.87,526.91 L787.08,526.05 L790.28,525.18 L793.49,524.31 L796.70,523.43" stroke="#9467bd" stroke-width="3.08" stroke-linecap="square"/>
<path d="M158.30,585.39 L161.51,585.38 L164.72,585.38 L167.92,585.38 L171.13,585.37 L174.34,585.37 L177.55,585.36 L180.76,585.35 L183.96,585.34 L187.17,585.34 L190.38,585.33 L193.59,585.32 L196.80,585.31 L200.00,585.29 L203.21,585.28 L206.42,585.27 L209.63,585.25 L212.84,585.24 L216.04,585.22 L219.25,585.20 L222.46,585.18 L225.67,585.16 L228.88,585.14 L232.08,585.11 L235.29,585.09 L238.50,585.06 L241.71,585.03 L244.92,585.00 L248.13,584.97 L251.33,584.94 L254.54,584.91 L257.75,584.87 L260.96,584.83 L264.17,584.79 L267.37,584.75 L270.58,584.71 L273.79,584.67 L277.00,584.62 L280.21,584.57 L283.41,584.52 L286.62,584.47 L289.83,584.42 L293.04,584.36 L296.25,584.30 L299.45,584.24 L302.66,584.18 L305.87,584.11 L309.08,584.05 L312.29,583.98 L315.49,583.90 L318.70,583.83 L321.91,583.75 L325.12,583.68 L328.33,583.59 L331.53,583.51 L334.74,583.42 L337.95,583.33 L341.16,583.24 L344.37,583.15 L347.57,583.05 L350.78,582.95 L353.99,582.85 L357.20,582.75 L360.41,582.64 L363.61,582.53 L366.82,582.41 L370.03,582.30 L373.24,582.18 L376.45,582.05 L379.65,581.93 L382.86,581.80 L386.07,581.67 L389.28,581.53 L392.49,581.39 L395.69,581.25 L398.90,581.11 L402.11,580.96 L405.32,580.81 L408.53,580.65 L411.74,580.50 L414.94,580.33 L418.15,580.17 L421.36,580.00 L424.57,579.83 L427.78,579.65 L430.98,579.48 L434.19,579.29 L437.40,579.11 L440.61,578.92 L443.82,578.72 L447.02,578.52 L450.23,578.32 L453.44,578.12 L456.65,577.91 L459.86,577.70 L463.06,577.48 L466.27,577.26 L469.48,577.03 L472.69,576.81 L475.90,576.57 L479.10,576.34 L482.31,576.10 L485.52,575.85 L488.73,575.60 L491.94,575.35 L495.14,575.09 L498.35,574.83 L501.56,574.56 L504.77,574.29 L507.98,574.02 L511.18,573.74 L514.39,573.45 L517.60,573.17 L520.81,572.87 L524.02,572.58 L527.22,572.28 L530.43,571.97 L533.64,571.66 L536.85,571.34 L540.06,571.03 L543.26,570.70 L546.47,570.37 L549.68,570.04 L552.89,569.70 L556.10,569.36 L559.31,569.01 L562.51,568.66 L565.72,568.30 L568.93,567.94 L572.14,567.57 L575.35,567.20 L578.55,566.82 L581.76,566.44 L584.97,566.05 L588.18,565.66 L591.39,565.26 L594.59,564.86 L597.80,564.46 L601.01,564.04 L604.22,563.63 L607.43,563.20 L610.63,562.78 L613.84,562.35 L617.05,561.91 L620.26,561.46 L623.47,561.02 L626.67,560.56 L629.88,560.11 L633.09,559.64 L636.30,559.17 L639.51,558.70 L642.71,558.22 L645.92,557.73 L649.13,557.24 L652.34,556.75 L655.55,556.25 L658.75,555.74 L661.96,555.23 L665.17,554.71 L668.38,554.19 L671.59,553.66 L674.79,553.13 L678.00,552.59 L681.21,552.05 L684.42,551.50 L687.63,550.94 L690.83,550.38 L694.04,549.81 L697.25,549.24 L700.46,548.66 L703.67,548.08 L706.87,547.49 L710.08,546.90 L713.29,546.30 L716.50,545.69 L719.71,545.08 L722.92,544.46 L726.12,543.84 L729.33,543.21 L732.54,542.58 L735.75,541.94 L738.96,541.30 L742.16,540.65 L745.37,539.99 L748.58,539.33 L751.79,538.66 L755.00,537.99 L758.20,537.31 L761.41,536.62 L764.62,535.93 L767.83,535.24 L771.04,534.54 L774.24,533.83 L777.45,533.12 L780.66,532.40 L783.87,531.67 L787.08,530.94 L790.28,530.21 L793.49,529.47 L796.70,528.72" stroke="#9467bd" stroke-width="3.08" stroke-dasharray="10.28 4.44"/>
<path d="M158.30,585.39 L161.51,585.38 L164.72,585.38 L167.92,585.38 L171.13,585.37 L174.34,585.37 L177.55,585.36 L180.76,585.35 L183.96,585.34 L187.17,585.34 L190.38,585.33 L193.59,585.32 L196.80,585.31 L200.00,585.29 L203.21,585.28 L206.42,585.27 L209.63,585.25 L212.84,585.23 L216.04,585.22 L219.25,585.20 L222.46,585.18 L225.67,585.16 L228.88,585.14 L232.08,585.11 L235.29,585.09 L238.50,585.06 L241.71,585.03 L244.92,585.00 L248.13,584.97 L251.33,584.94 L254.54,584.90 L257.75,584.87 L260.96,584.83 L264.17,584.79 L267.37,584.75 L270.58,584.71 L273.79,584.66 L277.00,584.62 L280.21,584.57 L283.41,584.52 L286.62,584.46 L289.83,584.41 L293.04,584.35 L296.25,584.29 L299.45,584.23 L302.66,584.17 L305.87,584.10 L309.08,584.04 L312.29,583.97 L315.49,583.89 L318.70,583.82 L321.91,583.74 L325.12,583.66 L328.33,583.58 L331.53,583.49 L334.74,583.41 L337.95,583.32 L341.16,583.22 L344.37,583.13 L347.57,583.03 L350.78,582.93 L353.99,582.82 L357.20,582.71 L360.41,582.60 L363.61,582.49 L366.82,582.37 L370.03,582.26 L373.24,582.13 L376.45,582.01 L379.65,581.88 L382.86,581.75 L386.07,581.61 L389.28,581.47 L392.49,581.33 L395.69,581.18 L398.90,581.03 L402.11,580.88 L405.32,580.72 L408.53,580.56 L411.74,580.40 L414.94,580.23 L418.15,580.06 L421.36,579.89 L424.57,579.71 L427.78,579.53 L430.98,579.34 L434.19,579.15 L437.40,578.95 L440.61,578.76 L443.82,578.55 L447.02,578.35 L450.23,578.14 L453.44,577.92 L456.65,577.70 L459.86,577.48 L463.06,577.25 L466.27,577.02 L469.48,576.78 L472.69,576.54 L475.90,576.29 L479.10,576.04 L482.31,575.78 L485.52,575.52 L488.73,575.26 L491.94,574.99 L495.14,574.71 L498.35,574.43 L501.56,574.15 L504.77,573.86 L507.98,573.56 L511.18,573.26 L514.39,572.96 L517.60,572.65 L520.81,572.33 L524.02,572.01 L527.22,571.68 L530.43,571.35 L533.64,571.02 L536.85,570.67 L540.06,570.32 L543.26,569.97 L546.47,569.61 L549.68,569.24 L552.89,568.87 L556.10,568.50 L559.31,568.11 L562.51,567.72 L565.72,567.33 L568.93,566.93 L572.14,566.52 L575.35,566.11 L578.55,565.69 L581.76,565.26 L584.97,564.83 L588.18,564.39 L591.39,563.94 L594.59,563.49 L597.80,563.03 L601.01,562.57 L604.22,562.10 L607.43,561.62 L610.63,561.13 L613.84,560.64 L617.05,560.14 L620.26,559.64 L623.47,559.12 L626.67,558.60 L629.88,558.08 L633.09,557.54 L636.30,557.00 L639.51,556.45 L642.71,555.89 L645.92,555.33 L649.13,554.76 L652.34,554.18 L655.55,553.59 L658.75,553.00 L661.96,552.39 L665.17,551.78 L668.38,551.17 L671.59,550.54 L674.79,549.91 L678.00,549.26 L681.21,548.61 L684.42,547.95 L687.63,547.29 L690.83,546.61 L694.04,545.93 L697.25,545.23 L700.46,544.53 L703.67,543.82 L706.87,543.10 L710.08,542.38 L713.29,541.64 L716.50,540.89 L719.71,540.14 L722.92,539.38 L726.12,538.60 L729.33,537.82 L732.54,537.03 L735.75,536.23 L738.96,535.42 L742.16,534.60 L745.37,533.77 L748.58,532.93 L751.79,532.08 L755.00,531.23 L758.20,530.36 L761.41,529.48 L764.62,528.59 L767.83,527.69 L771.04,526.78 L774.24,525.86 L777.45,524.94 L780.66,524.00 L783.87,523.04 L787.08,522.08 L790.28,521.11 L793.49,520.13 L796.70,519.14" stroke="#9467bd" stroke-width="3.08" stroke-dasharray="2.88 4.48"/>
<path d="M158.30,585.39 L161.51,585.39 L164.72,585.39 L167.92,585.38 L171.13,585.38 L174.34,585.38 L177.55,585.37 L180.76,585.37 L183.96,585.36 L187.17,585.35 L190.38,585.35 L193.59,585.34 L196.80,585.33 L200.00,585.32 L203.21,585.31 L206.42,585.30 L209.63,585.29 L212.84,585.28 L216.04,585.27 L219.25,585.26 L222.46,585.24 L225.67,585.23 L228.88,585.21 L232.08,585.19 L235.29,585.17 L238.50,585.16 L241.71,585.13 L244.92,585.11 L248.13,585.09 L251.33,585.07 L254.54,585.04 L257.75,585.02 L260.96,584.99 L264.17,584.96 L267.37,584.93 L270.58,584.90 L273.79,584.87 L277.00,584.84 L280.21,584.80 L283.41,584.76 L286.62,584.73 L289.83,584.69 L293.04,584.65 L296.25,584.60 L299.45,584.56 L302.66,584.52 L305.87,584.47 L309.08,584.42 L312.29,584.37 L315.49,584.32 L318.70,584.26 L321.91,584.21 L325.12,584.15 L328.33,584.09 L331.53,584.03 L334.74,583.97 L337.95,583.90 L341.16,583.84 L344.37,583.77 L347.57,583.70 L350.78,583.63 L353.99,583.55 L357.20,583.48 L360.41,583.40 L363.61,583.32 L366.82,583.23 L370.03,583.15 L373.24,583.06 L376.45,582.97 L379.65,582.88 L382.86,582.79 L386.07,582.69 L389.28,582.59 L392.49,582.49 L395.69,582.39 L398.90,582.28 L402.11,582.17 L405.32,582.06 L408.53,581.95 L411.74,581.83 L414.94,581.71 L418.15,581.59 L421.36,581.47 L424.57,581.34 L427.78,581.21 L430.98,581.08 L434.19,580.95 L437.40,580.81 L440.61,580.67 L443.82,580.53 L447.02,580.38 L450.23,580.23 L453.44,580.08 L456.65,579.93 L459.86,579.77 L463.06,579.61 L466.27,579.45 L469.48,579.28 L472.69,579.11 L475.90,578.94 L479.10,578.76 L482.31,578.59 L485.52,578.40 L488.73,578.22 L491.94,578.03 L495.14,577.84 L498.35,577.64 L501.56,577.45 L504.77,577.24 L507.98,577.04 L511.18,576.83 L514.39,576.62 L517.60,576.40 L520.81,576.19 L524.02,575.96 L527.22,575.74 L530.43,575.51 L533.64,575.27 L536.85,575.04 L540.06,574.80 L543.26,574.55 L546.47,574.31 L549.68,574.06 L552.89,573.80 L556.10,573.54 L559.31,573.28 L562.51,573.01 L565.72,572.74 L568.93,572.47 L572.14,572.19 L575.35,571.91 L578.55,571.62 L581.76,571.33 L584.97,571.03 L588.18,570.74 L591.39,570.43 L594.59,570.13 L597.80,569.82 L601.01,569.50 L604.22,569.18 L607.43,568.86 L610.63,568.53 L613.84,568.20 L617.05,567.86 L620.26,567.52 L623.47,567.17 L626.67,566.83 L629.88,566.47 L633.09,566.11 L636.30,565.75 L639.51,565.38 L642.71,565.01 L645.92,564.63 L649.13,564.25 L652.34,563.87 L655.55,563.47 L658.75,563.08 L661.96,562.68 L665.17,562.27 L668.38,561.86 L671.59,561.45 L674.79,561.03 L678.00,560.61 L681.21,560.18 L684.42,559.74 L687.63,559.30 L690.83,558.86 L694.04,558.41 L697.25,557.96 L700.46,557.50 L703.67,557.03 L706.87,556.56 L710.08,556.09 L713.29,555.61 L716.50,555.12 L719.71,554.63 L722.92,554.14 L726.12,553.64 L729.33,553.13 L732.54,552.62 L735.75,552.10 L738.96,551.58 L742.16,551.05 L745.37,550.52 L748.58,549.98 L751.79,549.44 L755.00,548.89 L758.20,548.33 L761.41,547.77 L764.62,547.20 L767.83,546.63 L771.04,546.05 L774.24,545.47 L777.45,544.88 L780.66,544.29 L783.87,543.69 L787.08,543.08 L790.28,542.47 L793.49,541.85 L796.70,541.22" stroke="#d62728" stroke-width="3.54" stroke-linecap="square"/>
<path d="M158.30,585.39 L161.51,585.39 L164.72,585.39 L167.92,585.38 L171.13,585.38 L174.34,585.38 L177.55,585.37 L180.76,585.37 L183.96,585.36 L187.17,585.35 L190.38,585.35 L193.59,585.34 L196.80,585.33 L200.00,585.32 L203.21,585.31 L206.42,585.30 L209.63,585.29 L212.84,585.28 L216.04,585.27 L219.25,585.26 L222.46,585.24 L225.67,585.23 L228.88,585.21 L232.08,585.19 L235.29,585.17 L238.50,585.16 L241.71,585.14 L244.92,585.11 L248.13,585.09 L251.33,585.07 L254.54,585.04 L257.75,585.02 L260.96,584.99 L264.17,584.96 L267.37,584.93 L270.58,584.90 L273.79,584.87 L277.00,584.84 L280.21,584.80 L283.41,584.77 L286.62,584.73 L289.83,584.69 L293.04,584.65 L296.25,584.61 L299.45,584.56 L302.66,584.52 L305.87,584.47 L309.08,584.42 L312.29,584.37 L315.49,584.32 L318.70,584.27 L321.91,584.21 L325.12,584.16 L328.33,584.10 L331.53,584.04 L334.74,583.97 L337.95,583.91 L341.16,583.84 L344.37,583.78 L347.57,583.71 L350.78,583.63 L353.99,583.56 L357.20,583.48 L360.41,583.41 L363.61,583.33 L366.82,583.24 L370.03,583.16 L373.24,583.07 L376.45,582.98 L379.65,582.89 L382.86,582.80 L386.07,582.70 L389.28,582.61 L392.49,582.51 L395.69,582.41 L398.90,582.30 L402.11,582.19 L405.32,582.08 L408.53,581.97 L411.74,581.86 L414.94,581.74 L418.15,581.62 L421.36,581.50 L424.57,581.38 L427.78,581.25 L430.98,581.12 L434.19,580.99 L437.40,580.85 L440.61,580.71 L443.82,580.57 L447.02,580.43 L450.23,580.29 L453.44,580.14 L456.65,579.99 L459.86,579.83 L463.06,579.67 L466.27,579.52 L469.48,579.35 L472.69,579.19 L475.90,579.02 L479.10,578.85 L482.31,578.67 L485.52,578.49 L488.73,578.31 L491.94,578.13 L495.14,577.94 L498.35,577.75 L501.56,577.56 L504.77,577.36 L507.98,577.16 L511.18,576.96 L514.39,576.76 L517.60,576.55 L520.81,576.33 L524.02,576.12 L527.22,575.90 L530.43,575.68 L533.64,575.45 L536.85,575.22 L540.06,574.99 L543.26,574.76 L546.47,574.52 L549.68,574.27 L552.89,574.03 L556.10,573.78 L559.31,573.53 L562.51,573.27 L565.72,573.01 L568.93,572.75 L572.14,572.48 L575.35,572.21 L578.55,571.93 L581.76,571.65 L584.97,571.37 L588.18,571.09 L591.39,570.80 L594.59,570.50 L597.80,570.21 L601.01,569.91 L604.22,569.60 L607.43,569.30 L610.63,568.98 L613.84,568.67 L617.05,568.35 L620.26,568.02 L623.47,567.70 L626.67,567.37 L629.88,567.03 L633.09,566.69 L636.30,566.35 L639.51,566.00 L642.71,565.65 L645.92,565.30 L649.13,564.94 L652.34,564.57 L655.55,564.21 L658.75,563.84 L661.96,563.46 L665.17,563.08 L668.38,562.70 L671.59,562.31 L674.79,561.92 L678.00,561.52 L681.21,561.12 L684.42,560.72 L687.63,560.31 L690.83,559.90 L694.04,559.48 L697.25,559.06 L700.46,558.64 L703.67,558.21 L706.87,557.77 L710.08,557.34 L713.29,556.89 L716.50,556.45 L719.71,556.00 L722.92,555.54 L726.12,555.08 L729.33,554.62 L732.54,554.15 L735.75,553.68 L738.96,553.20 L742.16,552.72 L745.37,552.24 L748.58,551.75 L751.79,551.25 L755.00,550.75 L758.20,550.25 L761.41,549.74 L764.62,549.23 L767.83,548.72 L771.04,548.19 L774.24,547.67 L777.45,547.14 L780.66,546.61 L783.87,546.07 L787.08,545.52 L790.28,544.98 L793.49,544.43 L796.70,543.87" stroke="#d62728" stroke-width="3.54" stroke-dasharray="11.99 5.19"/>
<path d="M158.30,585.39 L161.51,585.39 L164.72,585.39 L167.92,585.38 L171.13,585.38 L174.34,585.38 L177.55,585.37 L180.76,585.37 L183.96,585.36 L187.17,585.35 L190.38,585.35 L193.59,585.34 L196.80,585.33 L200.00,585.32 L203.21,585.31 L206.42,585.30 L209.63,585.29 L212.84,585.28 L216.04,585.27 L219.25,585.25 L222.46,585.24 L225.67,585.23 L228.88,585.21 L232.08,585.19 L235.29,585.17 L238.50,585.15 L241.71,585.13 L244.92,585.11 L248.13,585.09 L251.33,585.07 L254.54,585.04 L257.75,585.02 L260.96,584.99 L264.17,584.96 L267.37,584.93 L270.58,584.90 L273.79,584.87 L277.00,584.84 L280.21,584.80 L283.41,584.76 L286.62,584.73 L289.83,584.69 L293.04,584.65 L296.25,584.60 L299.45,584.56 L302.66,584.51 L305.87,584.47 L309.08,584.42 L312.29,584.37 L315.49,584.31 L318.70,584.26 L321.91,584.21 L325.12,584.15 L328.33,584.09 L331.53,584.03 L334.74,583.96 L337.95,583.90 L341.16,583.83 L344.37,583.76 L347.57,583.69 L350.78,583.62 L353.99,583.54 L357.20,583.47 L360.41,583.39 L363.61,583.31 L366.82,583.22 L370.03,583.14 L373.24,583.05 L376.45,582.96 L379.65,582.87 L382.86,582.77 L386.07,582.67 L389.28,582.57 L392.49,582.47 L395.69,582.37 L398.90,582.26 L402.11,582.15 L405.32,582.04 L408.53,581.92 L411.74,581.81 L414.94,581.69 L418.15,581.56 L421.36,581.44 L424.57,581.31 L427.78,581.18 L430.98,581.04 L434.19,580.91 L437.40,580.77 L440.61,580.63 L443.82,580.48 L447.02,580.33 L450.23,580.18 L453.44,580.03 L456.65,579.87 L459.86,579.71 L463.06,579.55 L466.27,579.38 L469.48,579.21 L472.69,579.04 L475.90,578.86 L479.10,578.68 L482.31,578.50 L485.52,578.31 L488.73,578.12 L491.94,577.93 L495.14,577.73 L498.35,577.53 L501.56,577.33 L504.77,577.12 L507.98,576.91 L511.18,576.70 L514.39,576.48 L517.60,576.26 L520.81,576.04 L524.02,575.81 L527.22,575.57 L530.43,575.34 L533.64,575.10 L536.85,574.85 L540.06,574.60 L543.26,574.35 L546.47,574.10 L549.68,573.84 L552.89,573.57 L556.10,573.30 L559.31,573.03 L562.51,572.75 L565.72,572.47 L568.93,572.19 L572.14,571.90 L575.35,571.60 L578.55,571.31 L581.76,571.00 L584.97,570.70 L588.18,570.39 L591.39,570.07 L594.59,569.75 L597.80,569.42 L601.01,569.09 L604.22,568.76 L607.43,568.42 L610.63,568.08 L613.84,567.73 L617.05,567.37 L620.26,567.02 L623.47,566.65 L626.67,566.28 L629.88,565.91 L633.09,565.53 L636.30,565.15 L639.51,564.76 L642.71,564.37 L645.92,563.97 L649.13,563.56 L652.34,563.16 L655.55,562.74 L658.75,562.32 L661.96,561.90 L665.17,561.47 L668.38,561.03 L671.59,560.59 L674.79,560.14 L678.00,559.69 L681.21,559.23 L684.42,558.76 L687.63,558.29 L690.83,557.82 L694.04,557.34 L697.25,556.85 L700.46,556.36 L703.67,555.86 L706.87,555.35 L710.08,554.84 L713.29,554.32 L716.50,553.80 L719.71,553.27 L722.92,552.73 L726.12,552.19 L729.33,551.64 L732.54,551.09 L735.75,550.53 L738.96,549.96 L742.16,549.38 L745.37,548.80 L748.58,548.22 L751.79,547.62 L755.00,547.02 L758.20,546.41 L761.41,545.80 L764.62,545.18 L767.83,544.55 L771.04,543.91 L774.24,543.27 L777.45,542.62 L780.66,541.97 L783.87,541.30 L787.08,540.63 L790.28,539.95 L793.49,539.27 L796.70,538.58" stroke="#d62728" stroke-width="3.54" stroke-dasharray="3.34 5.25"/>
</g>
<path d="M118.40,585.6v10.0 M118.40,40.5v-10.0 M251.41,585.6v10.0 M251.41,40.5v-10.0 M384.42,585.6v10.0 M384.42,40.5v-10.0 M517.43,585.6v10.0 M517.43,40.5v-10.0 M650.44,585.6v10.0 M650.44,40.5v-10.0 M783.45,585.6v10.0 M783.45,40.5v-10.0 M118.4,585.60h-10.0 M790.1,585.60h10.0 M118.4,521.47h-10.0 M790.1,521.47h10.0 M118.4,457.34h-10.0 M790.1,457.34h10.0 M118.4,393.21h-10.0 M790.1,393.21h10.0 M118.4,329.08h-10.0 M790.1,329.08h10.0 M118.4,264.95h-10.0 M790.1,264.95h10.0 M118.4,200.82h-10.0 M790.1,200.82h10.0 M118.4,136.69h-10.0 M790.1,136.69h10.0 M118.4,72.56h-10.0 M790.1,72.56h10.0" stroke="#000" stroke-width="1.6" fill="none"/>
<path d="M151.65,585.6v3.4 M151.65,40.5v-3.4 M184.90,585.6v3.4 M184.90,40.5v-3.4 M218.16,585.6v3.4 M218.16,40.5v-3.4 M284.66,585.6v3.4 M284.66,40.5v-3.4 M317.91,585.6v3.4 M317.91,40.5v-3.4 M351.17,585.6v3.4 M351.17,40.5v-3.4 M417.67,585.6v3.4 M417.67,40.5v-3.4 M450.92,585.6v3.4 M450.92,40.5v-3.4 M484.18,585.6v3.4 M484.18,40.5v-3.4 M550.68,585.6v3.4 M550.68,40.5v-3.4 M583.93,585.6v3.4 M583.93,40.5v-3.4 M617.19,585.6v3.4 M617.19,40.5v-3.4 M683.69,585.6v3.4 M683.69,40.5v-3.4 M716.94,585.6v3.4 M716.94,40.5v-3.4 M750.20,585.6v3.4 M750.20,40.5v-3.4 M118.4,572.77h-3.4 M790.1,572.77h3.4 M118.4,559.95h-3.4 M790.1,559.95h3.4 M118.4,547.12h-3.4 M790.1,547.12h3.4 M118.4,534.30h-3.4 M790.1,534.30h3.4 M118.4,508.64h-3.4 M790.1,508.64h3.4 M118.4,495.82h-3.4 M790.1,495.82h3.4 M118.4,482.99h-3.4 M790.1,482.99h3.4 M118.4,470.17h-3.4 M790.1,470.17h3.4 M118.4,444.52h-3.4 M790.1,444.52h3.4 M118.4,431.69h-3.4 M790.1,431.69h3.4 M118.4,418.86h-3.4 M790.1,418.86h3.4 M118.4,406.04h-3.4 M790.1,406.04h3.4 M118.4,380.39h-3.4 M790.1,380.39h3.4 M118.4,367.56h-3.4 M790.1,367.56h3.4 M118.4,354.73h-3.4 M790.1,354.73h3.4 M118.4,341.91h-3.4 M790.1,341.91h3.4 M118.4,316.26h-3.4 M790.1,316.26h3.4 M118.4,303.43h-3.4 M790.1,303.43h3.4 M118.4,290.60h-3.4 M790.1,290.60h3.4 M118.4,277.78h-3.4 M790.1,277.78h3.4 M118.4,252.13h-3.4 M790.1,252.13h3.4 M118.4,239.30h-3.4 M790.1,239.30h3.4 M118.4,226.48h-3.4 M790.1,226.48h3.4 M118.4,213.65h-3.4 M790.1,213.65h3.4 M118.4,188.00h-3.4 M790.1,188.00h3.4 M118.4,175.17h-3.4 M790.1,175.17h3.4 M118.4,162.35h-3.4 M790.1,162.35h3.4 M118.4,149.52h-3.4 M790.1,149.52h3.4 M118.4,123.87h-3.4 M790.1,123.87h3.4 M118.4,111.04h-3.4 M790.1,111.04h3.4 M118.4,98.22h-3.4 M790.1,98.22h3.4 M118.4,85.39h-3.4 M790.1,85.39h3.4 M118.4,59.74h-3.4 M790.1,59.74h3.4 M118.4,46.91h-3.4 M790.1,46.91h3.4" stroke="#000" stroke-width="1.6" fill="none"/>
<rect x="118.4" y="40.5" width="671.70" height="545.10" fill="none" stroke="#000" stroke-width="1.6" stroke-linejoin="miter"/>
<text font-size="100" stroke="#fff" stroke-width="1.22" transform="matrix(0.2842,0,0,0.2884,100.62,621.85)">0</text><text font-size="100" stroke="#fff" stroke-width="1.18" transform="matrix(0.3164,0,0,0.2788,114.59,621.13)">.</text><text font-size="100" stroke="#fff" stroke-width="1.22" transform="matrix(0.2842,0,0,0.2884,122.24,621.85)">0</text>
<text font-size="100" stroke="#fff" stroke-width="1.22" transform="matrix(0.2842,0,0,0.2884,233.63,621.85)">0</text><text font-size="100" stroke="#fff" stroke-width="1.18" transform="matrix(0.3164,0,0,0.2788,247.60,621.13)">.</text><text font-size="100" stroke="#fff" stroke-width="1.23" transform="matrix(0.2852,0,0,0.2847,255.38,621.52)">2</text>
<text font-size="100" stroke="#fff" stroke-width="1.22" transform="matrix(0.2842,0,0,0.2884,366.64,621.85)">0</text><text font-size="100" stroke="#fff" stroke-width="1.18" transform="matrix(0.3164,0,0,0.2788,380.61,621.13)">.</text><text font-size="100" stroke="#fff" stroke-width="1.24" transform="matrix(0.2723,0,0,0.2911,388.50,621.52)">4</text>
<text font-size="100" stroke="#fff" stroke-width="1.22" transform="matrix(0.2842,0,0,0.2884,499.65,621.85)">0</text><text font-size="100" stroke="#fff" stroke-width="1.18" transform="matrix(0.3164,0,0,0.2788,513.62,621.13)">.</text><text font-size="100" stroke="#fff" stroke-width="1.23" transform="matrix(0.2780,0,0,0.2897,521.24,621.85)">6</text>
<text font-size="100" stroke="#fff" stroke-width="1.22" transform="matrix(0.2842,0,0,0.2884,632.66,621.85)">0</text><text font-size="100" stroke="#fff" stroke-width="1.18" transform="matrix(0.3164,0,0,0.2788,646.63,621.13)">.</text><text font-size="100" stroke="#fff" stroke-width="1.23" transform="matrix(0.2803,0,0,0.2884,654.38,621.85)">8</text>
<text font-size="100" stroke="#fff" stroke-width="1.25" transform="matrix(0.2735,0,0,0.2856,765.69,621.52)">1</text><text font-size="100" stroke="#fff" stroke-width="1.18" transform="matrix(0.3164,0,0,0.2788,779.64,621.13)">.</text><text font-size="100" stroke="#fff" stroke-width="1.22" transform="matrix(0.2842,0,0,0.2884,787.29,621.85)">0</text>
<text font-size="100" stroke="#fff" stroke-width="1.22" transform="matrix(0.2842,0,0,0.2884,66.48,596.10)">0</text><text font-size="100" stroke="#fff" stroke-width="1.18" transform="matrix(0.3164,0,0,0.2788,80.45,595.38)">.</text><text font-size="100" stroke="#fff" stroke-width="1.22" transform="matrix(0.2842,0,0,0.2884,88.09,596.10)">0</text>
<text font-size="100" stroke="#fff" stroke-width="1.22" transform="matrix(0.2842,0,0,0.2884,66.48,531.98)">0</text><text font-size="100" stroke="#fff" stroke-width="1.18" transform="matrix(0.3164,0,0,0.2788,80.45,531.25)">.</text><text font-size="100" stroke="#fff" stroke-width="1.25" transform="matrix(0.2735,0,0,0.2856,88.10,531.65)">1</text>
<text font-size="100" stroke="#fff" stroke-width="1.22" transform="matrix(0.2842,0,0,0.2884,66.48,467.85)">0</text><text font-size="100" stroke="#fff" stroke-width="1.18" transform="matrix(0.3164,0,0,0.2788,80.45,467.12)">.</text><text font-size="100" stroke="#fff" stroke-width="1.23" transform="matrix(0.2852,0,0,0.2847,88.22,467.52)">2</text>
<text font-size="100" stroke="#fff" stroke-width="1.22" transform="matrix(0.2842,0,0,0.2884,66.48,403.72)">0</text><text font-size="100" stroke="#fff" stroke-width="1.18" transform="matrix(0.3164,0,0,0.2788,80.45,402.99)">.</text><text font-size="100" stroke="#fff" stroke-width="1.21" transform="matrix(0.2876,0,0,0.2897,87.88,403.72)">3</text>
<text font-size="100" stroke="#fff" stroke-width="1.22" transform="matrix(0.2842,0,0,0.2884,66.48,339.59)">0</text><text font-size="100" stroke="#fff" stroke-width="1.18" transform="matrix(0.3164,0,0,0.2788,80.45,338.86)">.</text><text font-size="100" stroke="#fff" stroke-width="1.24" transform="matrix(0.2723,0,0,0.2911,88.33,339.26)">4</text>
<text font-size="100" stroke="#fff" stroke-width="1.22" transform="matrix(0.2842,0,0,0.2884,66.48,275.46)">0</text><text font-size="100" stroke="#fff" stroke-width="1.18" transform="matrix(0.3164,0,0,0.2788,80.45,274.73)">.</text><text font-size="100" stroke="#fff" stroke-width="1.21" transform="matrix(0.2838,0,0,0.2929,87.83,275.45)">5</text>
<text font-size="100" stroke="#fff" stroke-width="1.22" transform="matrix(0.2842,0,0,0.2884,66.48,211.33)">0</text><text font-size="100" stroke="#fff" stroke-width="1.18" transform="matrix(0.3164,0,0,0.2788,80.45,210.60)">.</text><text font-size="100" stroke="#fff" stroke-width="1.23" transform="matrix(0.2780,0,0,0.2897,88.06,211.33)">6</text>
<text font-size="100" stroke="#fff" stroke-width="1.22" transform="matrix(0.2842,0,0,0.2884,66.48,147.20)">0</text><text font-size="100" stroke="#fff" stroke-width="1.18" transform="matrix(0.3164,0,0,0.2788,80.45,146.47)">.</text><text font-size="100" stroke="#fff" stroke-width="1.16" transform="matrix(0.3034,0,0,0.3015,87.62,147.48)">7</text>
<text font-size="100" stroke="#fff" stroke-width="1.22" transform="matrix(0.2842,0,0,0.2884,66.48,83.07)">0</text><text font-size="100" stroke="#fff" stroke-width="1.18" transform="matrix(0.3164,0,0,0.2788,80.45,82.34)">.</text><text font-size="100" stroke="#fff" stroke-width="1.23" transform="matrix(0.2803,0,0,0.2884,88.19,83.07)">8</text>
<text class="it" font-size="100" stroke="#fff" stroke-width="1.24" transform="matrix(0.2924,0,0,0.2734,433.95,654.89)">a</text>
<path d="M450.4,660.3 L459.8,634.4" stroke="#000" stroke-width="1.1" fill="none"/>
<text class="it" font-size="100" stroke="#fff" stroke-width="1.26" transform="matrix(0.2830,0,0,0.2727,462.28,654.88)">r</text>
<g transform="translate(47.6,382.3) rotate(-90)">
<text font-size="100" stroke="#fff" stroke-width="1.24" transform="matrix(0.2634,0,0,0.3013,-1.14,0.17)">Ω</text>
<text font-size="100" stroke="#fff" stroke-width="1.70" transform="matrix(0.2158,0,0,0.1971,17.18,-10.72)">2</text>
<path d="M31.7,6.5 L40.9,-20.6" stroke="#000" stroke-width="1.1" fill="none"/>
<path d="M49.9,-20.2 H46.7 V6.1 H49.9" stroke="#000" stroke-width="1.1" fill="none"/>
<text font-size="100" stroke="#fff" stroke-width="1.20" transform="matrix(0.2981,0,0,0.2847,49.12,0.17)">2</text>
<text class="it" font-size="100" stroke="#fff" stroke-width="1.24" transform="matrix(0.3018,0,0,0.2656,62.36,0.32)">π</text>
<text class="it" font-size="100" stroke="#fff" stroke-width="1.16" transform="matrix(0.2998,0,0,0.3048,80.07,0.51)">G</text>
<text class="it" font-size="100" stroke="#fff" stroke-width="1.33" transform="matrix(0.2705,0,0,0.2558,104.01,0.13)">ρ</text>
<text font-size="100" stroke="#fff" stroke-width="1.71" transform="matrix(0.2159,0,0,0.1934,115.60,3.99)">0</text>
<path d="M127.6,-20.2 H130.8 V6.1 H127.6" stroke="#000" stroke-width="1.1" fill="none"/>
</g>
<rect x="145.1" y="80.6" width="147.4" height="177.5" rx="3.5" ry="3.5" fill="#fff" fill-opacity="0.8" stroke="#cccccc" stroke-width="1.5"/>
<path d="M154.6,99.0 H204.6" stroke="#1f77b4" stroke-width="1.51" stroke-linecap="square" fill="none"/>
<text class="it" font-size="100" stroke="#fff" stroke-width="1.28" transform="matrix(0.3015,0,0,0.2472,223.15,108.17)">n</text>
<path d="M245.9,99.20 h15.8 M245.9,104.30 h15.8" stroke="#000" stroke-width="1.0" fill="none"/>
<text font-size="100" stroke="#fff" stroke-width="1.35" transform="matrix(0.2566,0,0,0.2601,269.52,108.27)">0</text>
<path d="M154.6,133.0 H204.6" stroke="#ff7f0e" stroke-width="1.97" stroke-linecap="square" fill="none"/>
<text class="it" font-size="100" stroke="#fff" stroke-width="1.28" transform="matrix(0.3015,0,0,0.2472,223.15,142.18)">n</text>
<path d="M245.9,133.20 h15.8 M245.9,138.30 h15.8" stroke="#000" stroke-width="1.0" fill="none"/>
<text font-size="100" stroke="#fff" stroke-width="1.39" transform="matrix(0.2471,0,0,0.2575,269.53,141.98)">1</text>
<path d="M154.6,167.1 H204.6" stroke="#2ca02c" stroke-width="2.44" stroke-linecap="square" fill="none"/>
<text class="it" font-size="100" stroke="#fff" stroke-width="1.28" transform="matrix(0.3015,0,0,0.2472,223.15,176.28)">n</text>
<path d="M245.9,167.30 h15.8 M245.9,172.40 h15.8" stroke="#000" stroke-width="1.0" fill="none"/>
<text font-size="100" stroke="#fff" stroke-width="1.36" transform="matrix(0.2576,0,0,0.2568,269.64,176.08)">2</text>
<path d="M154.6,201.4 H204.6" stroke="#9467bd" stroke-width="2.90" stroke-linecap="square" fill="none"/>
<text class="it" font-size="100" stroke="#fff" stroke-width="1.28" transform="matrix(0.3015,0,0,0.2472,223.15,210.58)">n</text>
<path d="M245.9,201.60 h15.8 M245.9,206.70 h15.8" stroke="#000" stroke-width="1.0" fill="none"/>
<text font-size="100" stroke="#fff" stroke-width="1.34" transform="matrix(0.2596,0,0,0.2612,269.33,210.67)">3</text>
<path d="M154.6,235.5 H204.6" stroke="#d62728" stroke-width="3.36" stroke-linecap="square" fill="none"/>
<text class="it" font-size="100" stroke="#fff" stroke-width="1.28" transform="matrix(0.3015,0,0,0.2472,223.15,244.68)">n</text>
<path d="M245.9,235.70 h15.8 M245.9,240.80 h15.8" stroke="#000" stroke-width="1.0" fill="none"/>
<text font-size="100" stroke="#fff" stroke-width="1.38" transform="matrix(0.2458,0,0,0.2625,269.74,244.48)">4</text>
</svg></body></html>
